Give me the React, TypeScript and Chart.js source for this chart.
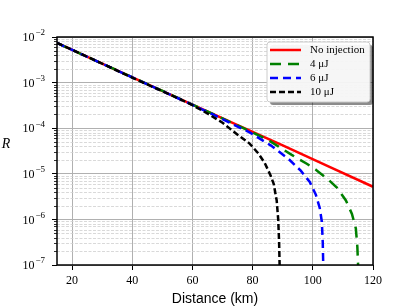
import React, { useEffect, useRef } from 'react';
import { Chart, registerables } from 'chart.js';
Chart.register(...registerables);

// ---- data ----
const xTicks = [20, 40, 60, 80, 100, 120];
const yExponents = [-7, -6, -5, -4, -3, -2];
const legendLabels = ['No injection', '4 μJ', '6 μJ', '10 μJ'];

const distNo = [15, 30, 45, 60, 75, 90, 105, 120];
const rNo = [7.4e-3, 2.6e-3, 9.3e-4, 3.3e-4, 1.17e-4, 4.2e-5, 1.48e-5, 5.2e-6];

const dist4 = [15, 30, 45, 60, 75, 85, 93, 98, 101, 105, 108, 111, 113, 114.3, 114.8, 115.1];
const r4 = [7.4e-3, 2.6e-3, 9.3e-4, 3.3e-4, 1.15e-4, 5.6e-5, 2.6e-5, 1.66e-5, 1.23e-5, 7.6e-6, 5.0e-6, 2.6e-6, 1.32e-6, 6.3e-7, 2.5e-7, 8e-8];

const dist6 = [15, 30, 45, 60, 70, 79, 86, 92, 96, 99, 101, 102.3, 103, 103.3, 103.5];
const r6 = [7.4e-3, 2.6e-3, 9.2e-4, 3.25e-4, 1.58e-4, 8.1e-5, 4.2e-5, 2.1e-5, 1.17e-5, 6.6e-6, 3.5e-6, 1.78e-6, 8.9e-7, 3.2e-7, 8e-8];

const dist10 = [15, 30, 45, 55, 60, 65, 70, 75, 79, 82, 84, 86, 87, 88, 88.5, 88.8, 89];
const r10 = [7.4e-3, 2.6e-3, 9.1e-4, 4.6e-4, 3.2e-4, 2.1e-4, 1.32e-4, 7.2e-5, 4.6e-5, 2.75e-5, 1.74e-5, 9.1e-6, 6.0e-6, 2.6e-6, 1.0e-6, 3.2e-7, 8e-8];

// ---- styles ----
const seriesColors = ['#ff0000', '#008000', '#0000ff', '#000000'];
const seriesDash: number[][] = [[], [11, 7], [8, 5], [6, 3]];

const toPts = (xs: number[], ys: number[]) => xs.map((x, i) => ({ x, y: ys[i] }));

const decor = {
  id: 'decor',
  beforeDatasetsDraw(chart: any) {
    const { ctx, chartArea: a, scales } = chart;
    const y = scales.y;
    ctx.save();
    ctx.strokeStyle = '#cfcfcf';
    ctx.lineWidth = 0.8;
    ctx.setLineDash([3, 1.5]);
    const minorYs: number[] = [];
    for (const e of yExponents.slice(0, -1)) {
      for (let k = 2; k <= 9; k++) {
        const py = Math.round(y.getPixelForValue(k * Math.pow(10, e))) + 0.5;
        minorYs.push(py);
        ctx.beginPath();
        ctx.moveTo(a.left, py);
        ctx.lineTo(a.right, py);
        ctx.stroke();
      }
    }
    ctx.setLineDash([]);
    ctx.strokeStyle = '#000';
    ctx.lineWidth = 0.8;
    for (const py of minorYs) {
      ctx.beginPath();
      ctx.moveTo(a.left - 3, py);
      ctx.lineTo(a.left, py);
      ctx.stroke();
    }
    ctx.restore();
  },
  afterDatasetsDraw(chart: any) {
    const { ctx, chartArea: a, scales } = chart;
    ctx.save();
    // spines
    ctx.strokeStyle = '#000';
    ctx.lineWidth = 1.5;
    ctx.strokeRect(a.left, a.top, a.right - a.left, a.bottom - a.top);

    // y tick labels: 10 with superscript exponent
    ctx.fillStyle = '#000';
    ctx.textAlign = 'right';
    ctx.textBaseline = 'middle';
    for (const e of yExponents) {
      const py = scales.y.getPixelForValue(Math.pow(10, e));
      const expText = '−' + String(Math.abs(e));
      ctx.font = '9px "Liberation Serif"';
      const ew = ctx.measureText(expText).width;
      ctx.fillText(expText, 45, py - 4);
      ctx.font = '12px "Liberation Serif"';
      ctx.fillText('10', 45 - ew - 1, py + 1);
    }

    // y label
    ctx.font = 'italic 14px "Liberation Serif"';
    ctx.textAlign = 'center';
    ctx.fillText('R', 6, 144);

    // legend
    const bx = 267, by = 42, bw = 103, bh = 60, r = 3;
    const rr = (x: number, yy: number) => {
      ctx.beginPath();
      ctx.moveTo(x + r, yy);
      ctx.lineTo(x + bw - r, yy);
      ctx.arcTo(x + bw, yy, x + bw, yy + r, r);
      ctx.lineTo(x + bw, yy + bh - r);
      ctx.arcTo(x + bw, yy + bh, x + bw - r, yy + bh, r);
      ctx.lineTo(x + r, yy + bh);
      ctx.arcTo(x, yy + bh, x, yy + bh - r, r);
      ctx.lineTo(x, yy + r);
      ctx.arcTo(x, yy, x + r, yy, r);
      ctx.closePath();
    };
    rr(bx + 3, by + 3);
    ctx.fillStyle = 'rgba(0,0,0,0.45)';
    ctx.fill();
    rr(bx, by);
    ctx.fillStyle = 'rgba(255,255,255,0.92)';
    ctx.fill();
    ctx.strokeStyle = '#cccccc';
    ctx.lineWidth = 1;
    ctx.stroke();

    const datasets = chart.data.datasets;
    ctx.font = '11px "Liberation Serif"';
    ctx.textAlign = 'left';
    ctx.textBaseline = 'middle';
    datasets.forEach((ds: any, i: number) => {
      const ly = by + 8 + i * 14;
      ctx.strokeStyle = ds.borderColor;
      ctx.lineWidth = ds.borderWidth;
      ctx.setLineDash(ds.borderDash || []);
      ctx.beginPath();
      ctx.moveTo(bx + 3, ly);
      ctx.lineTo(bx + 34, ly);
      ctx.stroke();
      ctx.setLineDash([]);
      ctx.fillStyle = '#000';
      ctx.fillText(ds.label, bx + 43, ly);
    });
    ctx.restore();
  },
};

export default function App() {
  const ref = useRef<HTMLCanvasElement>(null);
  useEffect(() => {
    if (!ref.current) return;
    const series = [toPts(distNo, rNo), toPts(dist4, r4), toPts(dist6, r6), toPts(dist10, r10)];
    const chart = new Chart(ref.current, {
      type: 'line',
      data: {
        datasets: series.map((pts, i) => ({
          label: legendLabels[i],
          data: pts,
          borderColor: seriesColors[i],
          backgroundColor: seriesColors[i],
          borderWidth: 2.5,
          borderDash: seriesDash[i],
          pointRadius: 0,
          tension: 0,
          fill: false,
          order: 4 - i,
        })),
      },
      options: {
        responsive: false,
        animation: false,
        events: [],
        layout: { padding: { left: 0, top: 37, right: 42, bottom: 0 } },
        plugins: { legend: { display: false }, tooltip: { enabled: false }, title: { display: false } },
        scales: {
          x: {
            type: 'linear',
            min: 15,
            max: 120,
            afterBuildTicks: (s: any) => {
              s.ticks = xTicks.map((v) => ({ value: v }));
            },
            afterFit: (s: any) => {
              s.height = 43;
            },
            border: { display: false },
            grid: { color: '#b0b0b0', lineWidth: 1, tickColor: '#000', tickLength: 5, tickWidth: 1 },
            ticks: {
              color: '#000',
              padding: 4,
              maxRotation: 0,
              font: { family: '"Liberation Serif"', size: 12 },
              callback: (v: any) => String(v),
            },
            title: {
              display: true,
              text: 'Distance (km)',
              color: '#000',
              font: { family: '"Liberation Sans"', size: 14, lineHeight: 1 },
              padding: { top: 0, bottom: 2 },
            },
          },
          y: {
            type: 'logarithmic',
            min: 1e-7,
            max: 1e-2,
            afterBuildTicks: (s: any) => {
              s.ticks = yExponents.map((e) => ({ value: Math.pow(10, e), major: true }));
            },
            afterFit: (s: any) => {
              s.width = 57;
            },
            border: { display: false },
            grid: { color: '#b0b0b0', lineWidth: 1, tickColor: '#000', tickLength: 5, tickWidth: 1 },
            ticks: { display: false },
          },
        },
      },
      plugins: [decor],
    } as any);
    return () => chart.destroy();
  }, []);
  return (
    <div style={{ position: 'absolute', left: 0, top: 0, width: 415, height: 308 }}>
      <canvas ref={ref} width={415} height={308} style={{ display: 'block' }} />
    </div>
  );
}
